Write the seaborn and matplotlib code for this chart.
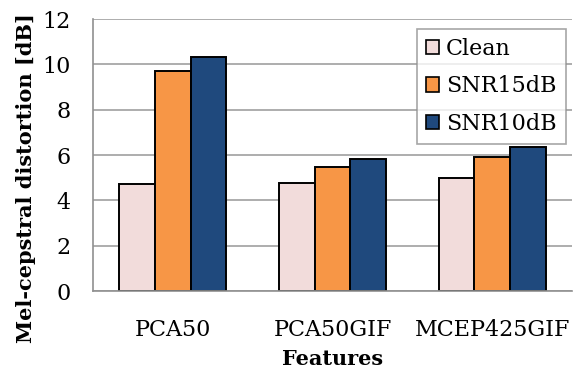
import matplotlib
matplotlib.use("Agg")
import matplotlib.pyplot as plt
import seaborn as sns
import pandas as pd
from matplotlib.patches import Patch

categories = ["PCA50", "PCA50GIF", "MCEP425GIF"]
series = ["Clean", "SNR15dB", "SNR10dB"]
clean = [4.73, 4.76, 4.98]
snr15 = [9.69, 5.48, 5.90]
snr10 = [10.34, 5.82, 6.37]
colors = ["#F2DCDB", "#F79646", "#1F497D"]

rows = []
for s, vals in zip(series, [clean, snr15, snr10]):
    for c, v in zip(categories, vals):
        rows.append({"Features": c, "Series": s, "Value": v})
df = pd.DataFrame(rows)

sns.set_theme(style="white")
plt.rcParams["font.family"] = ["DejaVu Serif"]
plt.rcParams["text.color"] = "black"
plt.rcParams["axes.labelcolor"] = "black"
plt.rcParams["xtick.color"] = "black"
plt.rcParams["ytick.color"] = "black"

W, H = 573, 372
fig = plt.figure(figsize=(W / 100, H / 100), dpi=100)
ax = fig.add_axes([93 / W, (H - 291) / H, (572 - 93) / W, (291 - 19) / H])

sns.barplot(data=df, x="Features", y="Value", hue="Series", hue_order=series,
            order=categories, palette=colors, width=0.67, gap=0,
            edgecolor="black", linewidth=1.4, ax=ax, legend=False, saturation=1)

ax.set_ylim(0, 12)
ax.set_yticks(range(0, 13, 2))
ax.set_xlim(-0.5, 2.5)
ax.yaxis.grid(True, color="#A0A0A0", linewidth=1.2)
ax.set_axisbelow(True)
for side in ["top", "right"]:
    ax.spines[side].set_visible(False)
for side in ["left", "bottom"]:
    ax.spines[side].set_color("#909090")
    ax.spines[side].set_linewidth(1.2)
ax.tick_params(axis="y", length=6, color="#909090", labelcolor="black", width=1.2,
               labelsize=16, pad=10)
ax.tick_params(axis="x", length=0, labelcolor="black", labelsize=16, pad=20)
ax.set_xlabel("Features", fontsize=15, fontweight="bold", color="black")
ax.set_ylabel("Mel-cepstral distortion [dB]", fontsize=15, fontweight="bold", color="black")
ax.xaxis.set_label_coords(0.5, -0.215)
ax.yaxis.set_label_coords(-0.12, 0.415)

handles = [Patch(facecolor=c, edgecolor="black", linewidth=1.2) for c in colors]
leg = ax.legend(handles, series, loc="upper right", bbox_to_anchor=(0.996, 0.98),
                fontsize=16, frameon=True, fancybox=False, edgecolor="#909090",
                handlelength=0.6, handleheight=0.6, handletextpad=0.3,
                labelspacing=0.7, borderpad=0.4, borderaxespad=0.2)
leg.get_frame().set_linewidth(1.2)
for t in leg.get_texts():
    t.set_color("black")

fig.savefig("out.png", dpi=100)
